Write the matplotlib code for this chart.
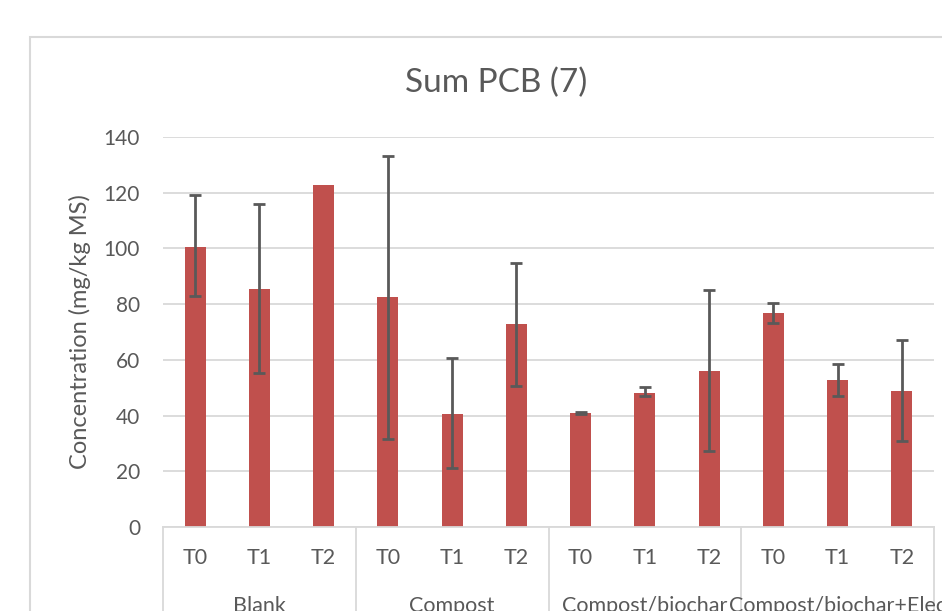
import numpy as np
import matplotlib
matplotlib.use("Agg")
import matplotlib.pyplot as plt
from matplotlib.patches import Rectangle
import matplotlib.transforms as mtransforms

plt.rcParams['font.family'] = ['Lato', 'DejaVu Sans']

# data
groups = ["Blank", "Compost", "Compost/biochar", "Compost/biochar+Elec"]
times = ["T0", "T1", "T2"]
values = [100.6, 85.4, 122.8,
          82.6, 40.6, 72.9,
          40.9, 48.2, 56.1,
          76.8, 52.9, 48.7]
err_low = [17.7, 30.1, 0.0,
           51.0, 19.4, 22.3,
           0.5, 1.1, 28.9,
           3.5, 5.9, 17.8]
err_high = [18.6, 30.5, 0.0,
            50.6, 20.1, 21.9,
            0.5, 2.1, 29.1,
            3.5, 5.6, 18.5]

grey = "#595959"
light = "#d9d9d9"

fig = plt.figure(figsize=(9.42, 6.11), dpi=100)
ax = fig.add_axes([163/942, 1-527/611, (934-163)/942, 390/611])

x = np.arange(len(values))
ax.bar(x, values, width=0.33, color="#C0504D", zorder=2)

# error bars only where there is one
has_err = [i for i in x if err_low[i] + err_high[i] > 0]
ax.errorbar(x[has_err], np.array(values)[has_err],
            yerr=[np.array(err_low)[has_err], np.array(err_high)[has_err]],
            fmt="none", ecolor=grey, elinewidth=2, capsize=4.5, capthick=2, zorder=3)

ax.set_xlim(-0.5, len(values) - 0.5)
ax.set_ylim(0, 140)
ax.set_yticks(range(0, 141, 20))
ax.yaxis.grid(True, color=light, linewidth=1.3, zorder=0)
ax.set_axisbelow(True)
for s in ["top", "right", "left"]:
    ax.spines[s].set_visible(False)
ax.spines["bottom"].set_color(light)
ax.spines["bottom"].set_linewidth(1.3)
ax.tick_params(axis="y", length=0, pad=16.5, labelsize=15, labelcolor=grey)
ax.set_xticks([])

ax.set_ylabel("Concentration (mg/kg MS)", fontsize=17, color=grey, labelpad=9)
fig.text(496/942, 1-83/611, "Sum PCB (7)", ha="center", va="center", fontsize=24, color=grey)

# two-level category axis
trans = mtransforms.blended_transform_factory(ax.transData, ax.transAxes)
for i, t in enumerate(x):
    ax.text(t, -0.079, times[i % 3], transform=trans, ha="center", va="center",
            fontsize=15.5, color=grey, clip_on=False)
for g in range(len(groups) + 1):
    ax.plot([g*3 - 0.5, g*3 - 0.5], [0, -0.4], transform=trans, color=light,
            linewidth=1.3, clip_on=False)
for g, name in enumerate(groups):
    ax.text(g*3 + 1, -0.177, name, transform=trans, ha="center", va="top",
            fontsize=15.5, color=grey, clip_on=False)

# chart area border
fig.patches.append(Rectangle((30/942, -0.1), 1.0, 1.1 - 37/611, transform=fig.transFigure,
                             fill=False, edgecolor=light, linewidth=1.5))

fig.savefig("out.png", dpi=100)
